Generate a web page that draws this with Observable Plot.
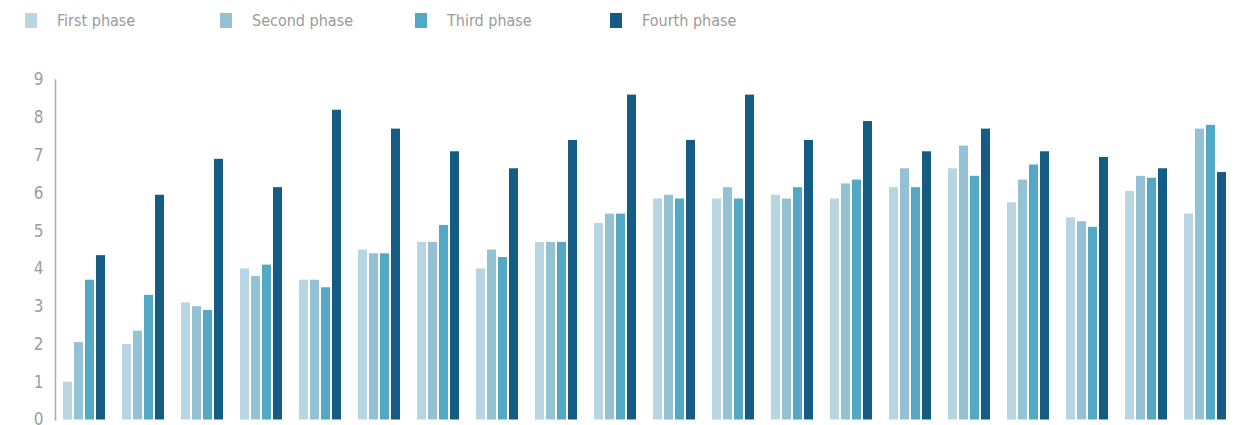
<!DOCTYPE html>
<html>
<head>
<meta charset="utf-8">
<script src="https://cdn.jsdelivr.net/npm/d3@7"></script>
<script src="https://cdn.jsdelivr.net/npm/@observablehq/plot@0.6"></script>
<style>
  html, body { margin: 0; padding: 0; background: #fff; overflow: hidden; }
  body { width: 1243px; height: 425px; font-family: "DejaVu Sans Condensed", "Liberation Sans Narrow", Roboto, sans-serif; }
  #legend { height: 45px; position: relative; }
  .item { position: absolute; top: 12px; display: flex; align-items: center; height: 16px; color: #9a9a9a; font-size: 16px; }
  .sw { width: 12px; height: 15px; margin-right: 20px; }
</style>
</head>
<body>
<div id="legend"></div>
<div id="chart"></div>
<script>
const categories = ["1","2","3","4","5","6","7","8","9","10","11","12","13","14","15","16","17","18","19","20"];
const phases = ["First phase", "Second phase", "Third phase", "Fourth phase"];
const colors = ["#b8d5e2", "#95c1d5", "#53a8c5", "#155c85"];
const firstPhase  = [1.0, 2.0, 3.1, 4.0, 3.7, 4.5, 4.7, 4.0, 4.7, 5.2, 5.85, 5.85, 5.95, 5.85, 6.15, 6.65, 5.75, 5.35, 6.05, 5.45];
const secondPhase = [2.05, 2.35, 3.0, 3.8, 3.7, 4.4, 4.7, 4.5, 4.7, 5.45, 5.95, 6.15, 5.85, 6.25, 6.65, 7.25, 6.35, 5.25, 6.45, 7.7];
const thirdPhase  = [3.7, 3.3, 2.9, 4.1, 3.5, 4.4, 5.15, 4.3, 4.7, 5.45, 5.85, 5.85, 6.15, 6.35, 6.15, 6.45, 6.75, 5.1, 6.4, 7.8];
const fourthPhase = [4.35, 5.95, 6.9, 6.15, 8.2, 7.7, 7.1, 6.65, 7.4, 8.6, 7.4, 8.6, 7.4, 7.9, 7.1, 7.7, 7.1, 6.95, 6.65, 6.55];
const yTicks = [0, 1, 2, 3, 4, 5, 6, 7, 8, 9];

const series = [firstPhase, secondPhase, thirdPhase, fourthPhase];
const data = [];
categories.forEach((c, i) => series.forEach((s, j) => data.push({group: c, phase: phases[j], value: s[i]})));

// legend
const legend = document.getElementById("legend");
phases.forEach((p, i) => {
  const d = document.createElement("div");
  d.className = "item";
  d.style.left = (25 + i * 195) + "px";
  d.innerHTML = `<span class="sw" style="background:${colors[i]}"></span><span>${p}</span>`;
  legend.appendChild(d);
});

const chart = Plot.plot({
  width: 1243,
  height: 380,
  marginTop: 34.5,
  marginBottom: 5.5,
  marginLeft: 55,
  marginRight: 8,
  style: {fontFamily: '"DejaVu Sans Condensed", "Liberation Sans Narrow", Roboto, sans-serif', overflow: "visible"},
  fx: {domain: categories, padding: 0, axis: null},
  x: {domain: phases, paddingInner: 0.15, paddingOuter: 0.6, axis: null},
  y: {domain: [0, 9], axis: null},
  color: {domain: phases, range: colors},
  marks: [
    Plot.barY(data, {fx: "group", x: "phase", y: "value", fill: "phase"}),
    Plot.frame({anchor: "left", facetAnchor: "left", stroke: "#ababab", strokeWidth: 1.5}),
    Plot.axisY({ticks: yTicks, tickSize: 0, tickPadding: 12, fontSize: 17, fill: "#9d9d9d", tickFormat: d3.format("d"), label: null, facetAnchor: "left"})
  ]
});
document.getElementById("chart").appendChild(chart);
</script>
</body>
</html>
